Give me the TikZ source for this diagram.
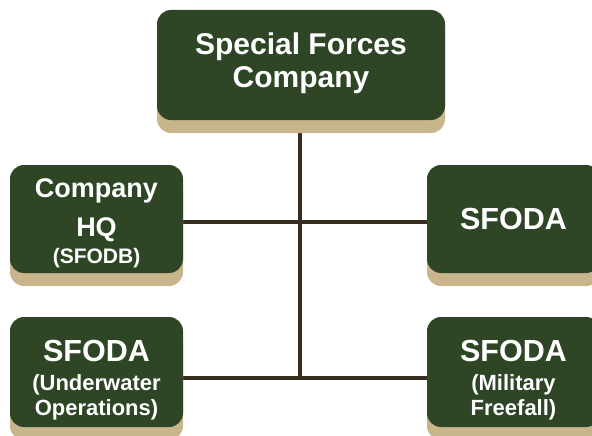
\documentclass[tikz,border=0pt]{standalone}
\usepackage{fontspec}
\setmainfont{Liberation Sans}
\usetikzlibrary{shadows,backgrounds}
\definecolor{boxgreen}{RGB}{46,69,38}
\definecolor{shadowtan}{RGB}{200,181,140}
\definecolor{linebrown}{RGB}{56,46,32}
\newcommand\titlesz{\fontsize{30}{32.5}\selectfont}
\newcommand\mainsz{\fontsize{30.5}{26}\selectfont}
\newcommand\hqsz{\fontsize{27}{29}\selectfont}
\newcommand\subsz{\fontsize{22}{22}\selectfont}
\newcommand\smallsubsz{\fontsize{21}{21}\selectfont}
\newcommand\topstrut[1]{\rule{0pt}{#1}}
\newcommand\botstrut[1]{\rule[-#1]{0pt}{#1}}
\tikzset{
  orgbox/.style={rectangle, rounded corners=14pt, fill=boxgreen, text=white,
    align=center, inner sep=0pt, minimum width=173pt, minimum height=108pt,
    drop shadow={shadow xshift=0pt, shadow yshift=-13pt, opacity=1, fill=shadowtan}},
  conn/.style={draw=linebrown, line width=4pt}
}
\begin{document}
\begin{tikzpicture}[x=1pt,y=-1pt]
\useasboundingbox (0,0) rectangle (592,436);
\clip (0,0) rectangle (592,436);
\node[orgbox, minimum width=288pt, minimum height=110pt, font=\titlesz\bfseries] (top) at (301,65)
  {Special Forces\\Company\botstrut{10pt}};
\node[orgbox, font=\hqsz\bfseries] (hq) at (96.5,219)
  {\topstrut{27.5pt}Company\\[10pt]HQ\\[-2pt]{\smallsubsz\bfseries (SFODB)}};
\node[orgbox, font=\mainsz\bfseries] (sf) at (513.5,219) {SFODA};
\node[orgbox, minimum height=110pt, font=\mainsz\bfseries] (uw) at (96.5,372)
  {\topstrut{37.5pt}SFODA\\[3pt]{\subsz\bfseries (Underwater}\\[-1pt]{\subsz\bfseries Operations)}};
\node[orgbox, minimum height=110pt, font=\mainsz\bfseries] (mf) at (513.5,372)
  {\topstrut{37.5pt}SFODA\\[3pt]{\subsz\bfseries (Military}\\[-1pt]{\subsz\bfseries Freefall)}};
\coordinate (j1) at (300,222);
\coordinate (j2) at (300,378);
\begin{scope}[on background layer]
\draw[conn] (top.south -| j1) -- (j2);
\draw[conn] (hq.east |- j1) -- (sf.west |- j1);
\draw[conn] (uw.east |- j2) -- (mf.west |- j2);
\end{scope}
\end{tikzpicture}
\end{document}
